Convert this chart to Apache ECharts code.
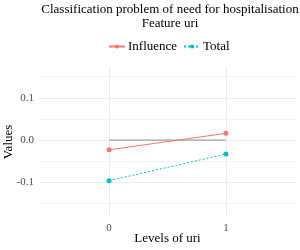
<!DOCTYPE html>
<html><head><meta charset="utf-8">
<script src="https://cdn.jsdelivr.net/npm/echarts@6/dist/echarts.min.js"></script>
<style>html,body{margin:0;padding:0;background:#fff}#c{width:300px;height:250px}</style>
</head><body><div id="c"></div>
<script>
const categories = [0, 1];
const influence = [-0.023, 0.016];
const total = [-0.096, -0.033];
const yTicks = [-0.1, 0, 0.1];
const yMinor = [-0.15, -0.05, 0.05, 0.15];
const xTickLabels = ['0', '1'];

const FONT = 'Liberation Serif';
const chart = echarts.init(document.getElementById('c'), null, {renderer: 'canvas'});
const grid = '#EBEBEB';
chart.setOption({
  animation: false,
  textStyle: {fontFamily: FONT},
  title: {
    text: 'Classification problem of need for hospitalisation\nFeature uri',
    left: 165, top: -2, textAlign: 'center',
    textStyle: {fontFamily: FONT, fontSize: 13, fontWeight: 'normal', color: '#000', lineHeight: 14}
  },
  legend: {
    data: ['Influence', 'Total'],
    top: 35, left: 103,
    itemWidth: 16, itemHeight: 5, itemGap: 6,
    textStyle: {fontFamily: FONT, fontSize: 13, color: '#000', padding: [0, 0, 0, -2]}
  },
  grid: {left: 39, right: 4, top: 67, bottom: 33, outerBoundsMode: 'none', containLabel: false},
  xAxis: {
    type: 'value', min: -0.6, max: 1.6,
    name: 'Levels of uri', nameLocation: 'middle', nameGap: 15, nameMoveOverlap: false,
    nameTextStyle: {fontFamily: FONT, fontSize: 13, color: '#000'},
    axisLine: {show: false}, axisTick: {show: false}, splitLine: {show: false},
    axisLabel: {customValues: categories, formatter: v => xTickLabels[categories.indexOf(v)] ?? '',
      fontFamily: FONT, fontSize: 11, color: '#4D4D4D', margin: 6}
  },
  yAxis: {
    type: 'value', min: -0.182, max: 0.173,
    name: 'Values', nameLocation: 'middle', nameRotate: 90, nameGap: 24, nameMoveOverlap: false,
    nameTextStyle: {fontFamily: FONT, fontSize: 13, color: '#000'},
    axisLine: {show: false}, axisTick: {show: false}, splitLine: {show: false},
    axisLabel: {customValues: yTicks, formatter: v => v.toFixed(1),
      fontFamily: FONT, fontSize: 11, color: '#4D4D4D', margin: 5}
  },
  series: [
    {
      type: 'line', name: 'grid', data: [], silent: true, z: 0,
      markLine: {
        silent: true, symbol: 'none', label: {show: false}, animation: false, z: 0,
        data: [
          ...categories.map(c => ({xAxis: c, lineStyle: {color: grid, width: 1, type: 'solid'}})),
          ...yTicks.map(v => ({yAxis: v, lineStyle: {color: grid, width: 1, type: 'solid'}})),
          ...yMinor.map(v => ({yAxis: v, lineStyle: {color: '#F2F2F2', width: 1, type: 'solid'}}))
        ]
      }
    },
    {
      type: 'line', name: 'zero', data: categories.map(c => [c, 0]), symbol: 'none', z: 1,
      lineStyle: {color: '#A0A0A0', width: 1.3}, itemStyle: {color: '#A0A0A0'}
    },
    {
      type: 'line', name: 'Influence', data: categories.map((c, i) => [c, influence[i]]),
      symbol: 'circle', symbolSize: 5, z: 3,
      itemStyle: {color: '#F8766D'}, lineStyle: {color: '#F8766D', width: 1}
    },
    {
      type: 'line', name: 'Total', data: categories.map((c, i) => [c, total[i]]),
      symbol: 'circle', symbolSize: 5, z: 3,
      itemStyle: {color: '#00BFC4'}, lineStyle: {color: '#00BFC4', width: 1, type: [2, 2]}
    }
  ]
});
</script></body></html>
